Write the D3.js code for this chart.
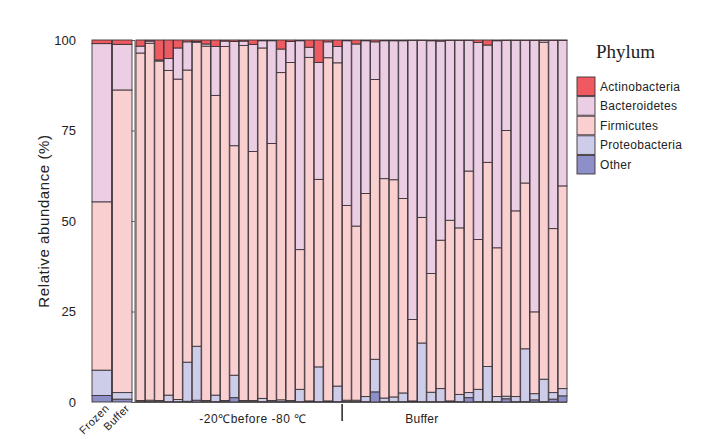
<!DOCTYPE html>
<html>
<head>
<meta charset="utf-8">
<script src="https://cdn.jsdelivr.net/npm/d3@7"></script>
<style>
  body { margin: 0; background: #fff; }
  text { font-family: "Liberation Sans", Arial, sans-serif; }
</style>
</head>
<body>
<div id="chart"></div>
<script>
'use strict';

// phyla, bottom of stack last
var phyla = ['Actinobacteria', 'Bacteroidetes', 'Firmicutes', 'Proteobacteria', 'Other'];
var phylumColors = ['#ee5a5f', '#ebcee4', '#f9cfd0', '#cdcdea', '#8d8fc9'];

// left panel: pooled samples
var leftSamples = ['Frozen', 'Buffer'];
var leftActino = [1.0, 1.2];
var leftBactero = [43.7, 12.6];
var leftFirmi = [46.5, 83.6];
var leftProteo = [7.0, 1.8];
var leftOther = [1.8, 0.8];

// right panel: individual samples, 22 + 24
var groupNames = ['-20\u2103before -80 \u2103', 'Buffer'];
var groupSizes = [22, 24];

var actino = [1.7, 0.3, 5.5, 5.1, 2.2, 0.5, 0.4, 1.1, 1.8, 0.3, 0.4, 0.3, 1.2, 0.2, 0.2, 2.5, 0.4, 0.2, 2.0, 6.2, 0.5, 1.8,
              0.2, 1.1, 0.2, 0.5, 0.2, 0.2, 0.2, 0.1, 0.1, 0.2, 0.3, 0.1, 0.1, 0.1, 0.7, 1.4, 0.2, 0.1, 0.1, 0.1, 0.1, 0.1, 0.1, 0.1];
var bactero = [1.9, 0.6, 0.3, 3.3, 8.6, 7.8, 0.2, 0.6, 13.5, 1.5, 28.8, 1.2, 29.6, 2.0, 28.4, 6.5, 5.8, 57.7, 2.8, 32.3, 4.4, 4.5,
               45.5, 50.3, 42.2, 10.4, 38.1, 38.4, 43.6, 77.1, 48.9, 64.3, 55.0, 49.7, 51.8, 36.1, 54.4, 32.4, 57.2, 24.9, 47.1, 39.4, 75.0, 0.5, 52.0, 40.2];
var firmi = [96.0, 98.6, 93.8, 89.7, 88.5, 80.7, 84.0, 97.9, 82.8, 97.8, 63.4, 98.1, 68.8, 96.8, 71.0, 90.4, 93.4, 38.6, 94.9, 51.8, 94.8, 89.3,
             53.8, 48.1, 56.1, 77.3, 60.6, 60.0, 53.7, 22.5, 34.7, 32.8, 41.0, 49.9, 46.0, 61.2, 41.4, 56.4, 41.1, 73.4, 51.3, 45.8, 22.6, 93.1, 45.3, 56.0];
var proteo = [0.3, 0.4, 0.3, 1.8, 0.6, 10.8, 14.9, 0.3, 1.8, 0.3, 6.2, 0.3, 0.3, 0.9, 0.3, 0.5, 0.3, 3.4, 0.2, 9.6, 0.2, 4.3,
              0.4, 0.4, 1.4, 9.0, 1.0, 1.3, 2.4, 0.2, 16.2, 2.6, 3.6, 0.2, 2.0, 1.4, 3.4, 9.7, 1.4, 0.7, 1.4, 14.6, 1.7, 6.2, 1.8, 2.0];
var other = [0.1, 0.1, 0.1, 0.1, 0.1, 0.2, 0.5, 0.1, 0.1, 0.1, 1.2, 0.1, 0.1, 0.1, 0.1, 0.1, 0.1, 0.1, 0.1, 0.1, 0.1, 0.1,
             0.1, 0.1, 0.1, 2.8, 0.1, 0.1, 0.1, 0.1, 0.1, 0.1, 0.1, 0.1, 0.1, 1.2, 0.1, 0.1, 0.1, 0.9, 0.1, 0.1, 0.6, 0.1, 0.8, 1.7];

var yTicks = [0, 25, 50, 75, 100];

function toRows(names, series) {
    return names.map(function(n, i) {
        var row = { name: n };
        phyla.forEach(function(p, k) { row[p] = series[k][i]; });
        return row;
    });
}

var width = 703, height = 439;
var svg = d3.select('#chart').append('svg')
    .attr('width', width)
    .attr('height', height);

var y = d3.scaleLinear().domain([0, 100]).range([402, 40]);
var color = d3.scaleOrdinal().domain(phyla).range(phylumColors);
var stack = d3.stack().keys(phyla.slice().reverse());

var leftRows = toRows(leftSamples, [leftActino, leftBactero, leftFirmi, leftProteo, leftOther]);
var rightRows = toRows(d3.range(actino.length), [actino, bactero, firmi, proteo, other]);

var xLeft = d3.scaleBand().domain(leftSamples).range([92, 132]).paddingInner(0.05);
var xRight = d3.scaleBand().domain(d3.range(actino.length)).range([136, 567]).paddingInner(0.06);

function drawBars(g, rows, x) {
    g.selectAll('g.layer')
        .data(stack(rows))
        .enter().append('g')
        .attr('class', 'layer')
        .attr('fill', function(d) { return color(d.key); })
        .selectAll('rect')
        .data(function(d) { return d; })
        .enter().append('rect')
        .attr('x', function(d) { return x(d.data.name); })
        .attr('y', function(d) { return y(d[1]); })
        .attr('width', x.bandwidth())
        .attr('height', function(d) { return y(d[0]) - y(d[1]); })
        .attr('stroke', '#3d3338')
        .attr('stroke-width', 0.9);
}

// left panel
var left = svg.append('g');
drawBars(left, leftRows, xLeft);

// left y labels (no axis line)
left.selectAll('text.ytick')
    .data(yTicks)
    .enter().append('text')
    .attr('class', 'ytick')
    .attr('x', 76)
    .attr('y', function(d) { return y(d); })
    .attr('dy', '0.35em')
    .attr('text-anchor', 'end')
    .attr('font-size', 13)
    .attr('fill', '#222')
    .text(function(d) { return d; });

left.selectAll('text.xlab')
    .data(leftSamples)
    .enter().append('text')
    .attr('class', 'xlab')
    .attr('transform', function(d) {
        return 'translate(' + (xLeft(d) + xLeft.bandwidth() / 2 + 8) + ',409) rotate(-45)';
    })
    .attr('text-anchor', 'end')
    .attr('font-size', 11)
    .attr('letter-spacing', 0.4)
    .attr('fill', '#222')
    .text(function(d) { return d; });

svg.append('text')
    .attr('transform', 'translate(49,221) rotate(-90)')
    .attr('text-anchor', 'middle')
    .attr('font-size', 15)
    .attr('letter-spacing', 0.6)
    .attr('fill', '#222')
    .text('Relative abundance (%)');

// right panel
var right = svg.append('g');
drawBars(right, rightRows, xRight);

var yAxis = d3.axisLeft(y).tickValues(yTicks).tickSize(3).tickFormat('');
right.append('g')
    .attr('transform', 'translate(134.5,0)')
    .call(yAxis)
    .call(function(g) {
        g.select('.domain').attr('stroke', '#555');
        g.selectAll('.tick line').attr('stroke', '#555');
    });

right.append('line')
    .attr('x1', 134.5).attr('x2', xRight.range()[1])
    .attr('y1', y(0) + 0.5).attr('y2', y(0) + 0.5)
    .attr('stroke', '#555');

// group separator + group labels
var firstOfSecond = groupSizes[0];
var sepX = xRight(firstOfSecond) - xRight.step() * xRight.paddingInner() / 2;
right.append('line')
    .attr('x1', sepX).attr('x2', sepX)
    .attr('y1', 404).attr('y2', 421)
    .attr('stroke', '#222')
    .attr('stroke-width', 1.5);

// label anchors (sample index the label sits on)
var groupLabelAt = [12, 30];
right.selectAll('text.group')
    .data(groupNames)
    .enter().append('text')
    .attr('class', 'group')
    .attr('x', function(d, i) {
        return xRight(groupLabelAt[i]) + xRight.bandwidth() / 2;
    })
    .attr('y', 423)
    .attr('text-anchor', 'middle')
    .attr('font-size', 12)
    .attr('letter-spacing', function(d, i) { return i == 0 ? 0.5 : 0.2; })
    .attr('fill', '#222')
    .text(function(d) { return d; });

// legend
var legend = svg.append('g');
legend.append('text')
    .attr('x', 596).attr('y', 58)
    .style('font-family', '"Liberation Serif", "Times New Roman", serif')
    .attr('font-size', 19)
    .attr('fill', '#222')
    .text('Phylum');

var item = legend.selectAll('g.item')
    .data(phyla)
    .enter().append('g')
    .attr('class', 'item')
    .attr('transform', function(d, i) { return 'translate(577,' + (77 + i * 19.6) + ')'; });

item.append('rect')
    .attr('width', 18).attr('height', 18.6)
    .attr('fill', function(d) { return color(d); })
    .attr('stroke', '#3d3338')
    .attr('stroke-width', 0.9);

item.append('text')
    .attr('x', 23).attr('y', 9.5)
    .attr('dy', '0.35em')
    .attr('font-size', 12)
    .attr('letter-spacing', 0.3)
    .attr('fill', '#222')
    .text(function(d) { return d; });
</script>
</body>
</html>
